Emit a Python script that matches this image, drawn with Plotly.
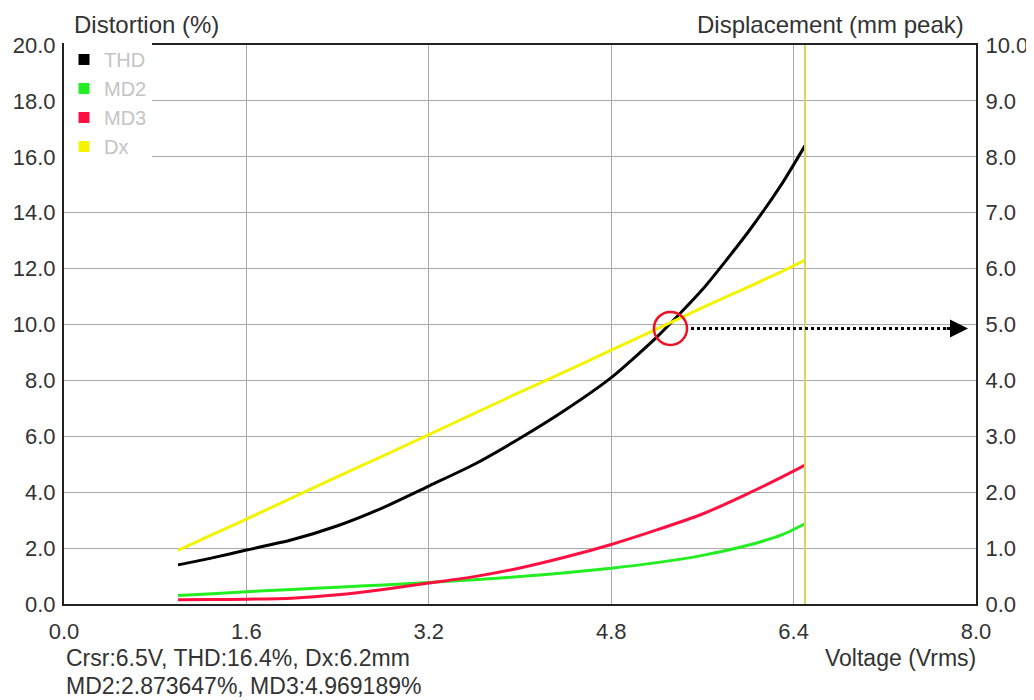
import plotly.graph_objs as go

# voltage sweep (Vrms) and measured values
voltage = [1.0, 1.3, 1.6, 2.0, 2.4, 2.8, 3.2, 3.6, 4.0, 4.4, 4.8, 5.2, 5.6, 6.0, 6.3, 6.5]
thd = [1.40, 1.65, 1.93, 2.30, 2.80, 3.45, 4.22, 5.00, 5.93, 6.95, 8.10, 9.55, 11.25, 13.30, 15.05, 16.4]
md2 = [0.30, 0.37, 0.44, 0.52, 0.60, 0.68, 0.77, 0.87, 0.98, 1.12, 1.28, 1.48, 1.74, 2.10, 2.48, 2.87]
md3 = [0.15, 0.16, 0.17, 0.21, 0.33, 0.52, 0.75, 0.98, 1.29, 1.68, 2.13, 2.65, 3.22, 3.95, 4.55, 4.97]
dx = [0.96, 1.24, 1.52, 1.90, 2.28, 2.65, 3.03, 3.41, 3.79, 4.16, 4.54, 4.92, 5.30, 5.67, 5.95, 6.15]

cursor_v = 6.5
cross_v = 5.32          # where THD meets Dx
cross_pct = 9.86
arrow_end_v = 7.93

cursor_text = 'Crsr:6.5V, THD:16.4%, Dx:6.2mm'
cursor_text2 = 'MD2:2.873647%, MD3:4.969189%'

FONT = 'Liberation Sans, Arial, sans-serif'
TXT = '#333333'
GRID = '#aaaaaa'

series = [('THD', thd, '#000000', 'y'),
          ('MD2', md2, '#22ee22', 'y'),
          ('MD3', md3, '#ff1040', 'y'),
          ('Dx', dx, '#f4f400', 'y2')]

data = []
for name, vals, col, ax in series:
    data.append(go.Scatter(x=voltage, y=vals, mode='lines', name=name,
                           line=dict(color=col, width=3, shape='spline',
                                     smoothing=0.6),
                           yaxis=ax, showlegend=False))
# square swatches for the legend
for name, vals, col, ax in series:
    data.append(go.Scatter(x=[None], y=[None], mode='markers', name=name,
                           legendgroup=name,
                           marker=dict(symbol='square', size=11, color=col)))

axis_common = dict(showline=True, linecolor='#222222', linewidth=2,
                   ticks='', tickfont=dict(size=22, color=TXT, family=FONT),
                   zeroline=False, tickformat='.1f', automargin=False)

# page body adds an 8px offset, so the figure is a bit smaller than the window
layout = go.Layout(
    width=1026, height=692,
    paper_bgcolor='white', plot_bgcolor='white',
    margin=dict(l=56, r=58, t=37, b=96),
    font=dict(family=FONT, color=TXT),
    xaxis=dict(range=[0, 8], dtick=1.6, tick0=0, mirror=True,
               showgrid=True, gridcolor=GRID, gridwidth=1,
               ticklabelstandoff=7, **axis_common),
    yaxis=dict(range=[0, 20], dtick=2, tick0=0, mirror=True,
               showgrid=True, gridcolor=GRID, gridwidth=1,
               ticklabelstandoff=2, **axis_common),
    yaxis2=dict(range=[0, 10], dtick=1, tick0=0, overlaying='y', side='right',
                showgrid=False, ticklabelstandoff=3, **axis_common),
    legend=dict(x=0.0, y=1.009, xanchor='left', yanchor='top',
                bgcolor='white', borderwidth=0, tracegroupgap=0,
                font=dict(size=20, color='#c4c4c4', family=FONT),
                itemwidth=30),
    shapes=[
        dict(type='line', xref='x', yref='paper', x0=cursor_v, x1=cursor_v,
             y0=0, y1=1, line=dict(color='#d6d65a', width=2)),
        dict(type='circle', xref='x', yref='y',
             x0=cross_v - 0.145, x1=cross_v + 0.145,
             y0=cross_pct - 0.59, y1=cross_pct + 0.59,
             line=dict(color='#ee1122', width=2.5)),
        dict(type='line', xref='x', yref='y',
             x0=cross_v + 0.18, x1=arrow_end_v - 0.18,
             y0=cross_pct, y1=cross_pct,
             line=dict(color='black', width=3, dash='dot')),
    ],
    annotations=[
        dict(x=arrow_end_v, y=cross_pct, xref='x', yref='y',
             ax=arrow_end_v - 0.2, ay=cross_pct, axref='x', ayref='y',
             text='', showarrow=True, arrowhead=2, arrowsize=1.2,
             arrowwidth=3, arrowcolor='black'),
        dict(x=0, y=1, xref='paper', yref='paper', xanchor='left',
             yanchor='bottom', xshift=8, yshift=5, showarrow=False,
             text='Distortion (%)', font=dict(size=24, color=TXT)),
        dict(x=1, y=1, xref='paper', yref='paper', xanchor='right',
             yanchor='bottom', xshift=-10, yshift=5, showarrow=False,
             text='Displacement (mm peak)', font=dict(size=24, color=TXT)),
        dict(x=1, y=-0.0966, xref='paper', yref='paper', xanchor='right',
             yanchor='middle', showarrow=False, xshift=2,
             text='Voltage (Vrms)', font=dict(size=23, color=TXT)),
        dict(x=0, y=-0.0966, xref='paper', yref='paper', xanchor='left',
             yanchor='middle', showarrow=False,
             text=cursor_text, font=dict(size=23, color=TXT)),
        dict(x=0, y=-0.1467, xref='paper', yref='paper', xanchor='left',
             yanchor='middle', showarrow=False,
             text=cursor_text2, font=dict(size=23, color=TXT)),
    ])

fig = go.Figure(data=data, layout=layout)
fig.write_html('out.html')
